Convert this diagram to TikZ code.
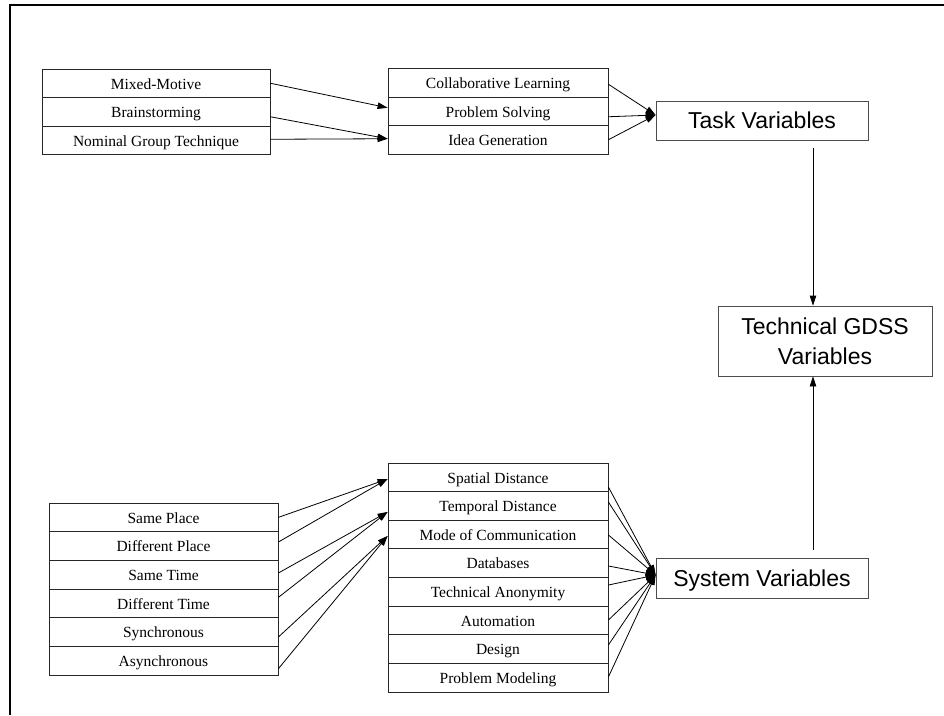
\documentclass[tikz,border=0pt]{standalone}
\usepackage{fontspec}
\setmainfont{Liberation Serif}
\newfontfamily\headfont{Liberation Sans}
\usetikzlibrary{arrows.meta}
\begin{document}
\begin{tikzpicture}[x=1pt,y=-1pt,
  item/.style={draw=black!85, line width=0.8pt, rectangle, inner sep=0pt,
    minimum height=28.6pt, text height=12pt, text depth=0.5pt,
    font=\fontsize{15.5}{18}\selectfont},
  topitem/.style={item, minimum height=28.5pt},
  head/.style={draw=black!70, line width=0.8pt, rectangle, inner sep=0pt,
    align=center, font=\headfont\fontsize{23}{30}\selectfont},
  arr/.style={line width=0.8pt, -{Triangle[length=10pt,width=6.5pt]}}]
\useasboundingbox (0,0) rectangle (944,715);
% page frame
\draw[line width=2pt] (10,715) -- (10,5) -- (944,5);

% task variable lists
\foreach \t [count=\i] in {Mixed-Motive,Brainstorming,Nominal Group Technique}
  \node[topitem, minimum width=228pt] (tl\i) at (156,54.75+28.5*\i) {\t};
\foreach \t [count=\i] in {Collaborative Learning,Problem Solving,Idea Generation}
  \node[topitem, minimum width=220pt] (tm\i) at (498,54.25+28.5*\i) {\t};

% system variable lists
\foreach \t [count=\i] in {Same Place,Different Place,Same Time,Different Time,Synchronous,Asynchronous}
  \node[item, minimum width=229pt] (bl\i) at (163.5,488.67+28.67*\i) {\t};
\foreach \t [count=\i] in {Spatial Distance,Temporal Distance,Mode of Communication,Databases,Technical Anonymity,Automation,Design,Problem Modeling}
  \node[item, minimum width=220pt] (bm\i) at (498,448.69+28.625*\i) {\t};

% headline boxes
\node[head, minimum width=212pt, minimum height=39pt, text height=17pt, text depth=0.5pt] (task) at (762,120.5) {Task Variables};
\node[head, minimum width=214pt, minimum height=70pt] (gdss) at (825,341) {Technical GDSS\\Variables};
\node[head, minimum width=212pt, minimum height=40pt, text height=17pt, text depth=0.5pt] (sys) at (762,578) {System Variables};

% connectors into the task list
\draw[arr] (tl1.east) -- ([yshift=3.5pt]tm2.west);
\draw[arr] ([yshift=-5pt]tl2.east) -- ([yshift=1pt]tm3.west);
\draw[arr] ([yshift=1pt]tl3.east) -- ([yshift=1pt]tm3.west);

\coordinate (taskin) at ([yshift=5.5pt]task.west);
\draw[arr] ([yshift=-1.5pt]tm1.east) -- (taskin);
\draw[arr] ([yshift=-5.5pt]tm2.east) -- (taskin);
\draw[arr] (tm3.east) -- (taskin);

% connectors into the system list
\draw[arr] (bl1.east) -- ([yshift=-1.7pt]bm1.west);
\draw[arr] ([yshift=4pt]bl2.east) -- ([yshift=-1.7pt]bm1.west);
\draw[arr] ([yshift=1.7pt]bl3.east) -- ([yshift=-6pt]bm2.west);
\draw[arr] ([yshift=6pt]bl4.east) -- ([yshift=-6pt]bm2.west);
\draw[arr] ([yshift=-5pt]bl5.east) -- ([yshift=-1.4pt]bm3.west);
\draw[arr] ([yshift=-8pt]bl6.east) -- ([yshift=-1.4pt]bm3.west);

\coordinate (sysin) at ([yshift=3pt]sys.west);
\draw[arr] ([yshift=-9.7pt]bm1.east) -- (sysin);
\draw[arr] ([yshift=3.9pt]bm2.east) -- (sysin);
\draw[arr] ([yshift=-0.4pt]bm3.east) -- (sysin);
\draw[arr] ([yshift=-2.8pt]bm4.east) -- (sysin);
\draw[arr] ([yshift=6.8pt]bm5.east) -- (sysin);
\draw[arr] ([yshift=0.4pt]bm6.east) -- (sysin);
\draw[arr] ([yshift=4.1pt]bm7.east) -- (sysin);
\draw[arr] ([yshift=0.7pt]bm8.east) -- (sysin);

% vertical connectors to the technical variables
\coordinate (taskout) at (813,148);
\coordinate (sysout) at (813,550);
\draw[arr] (taskout) -- (taskout |- gdss.north);
\draw[arr] (sysout) -- (sysout |- gdss.south);
\end{tikzpicture}
\end{document}
